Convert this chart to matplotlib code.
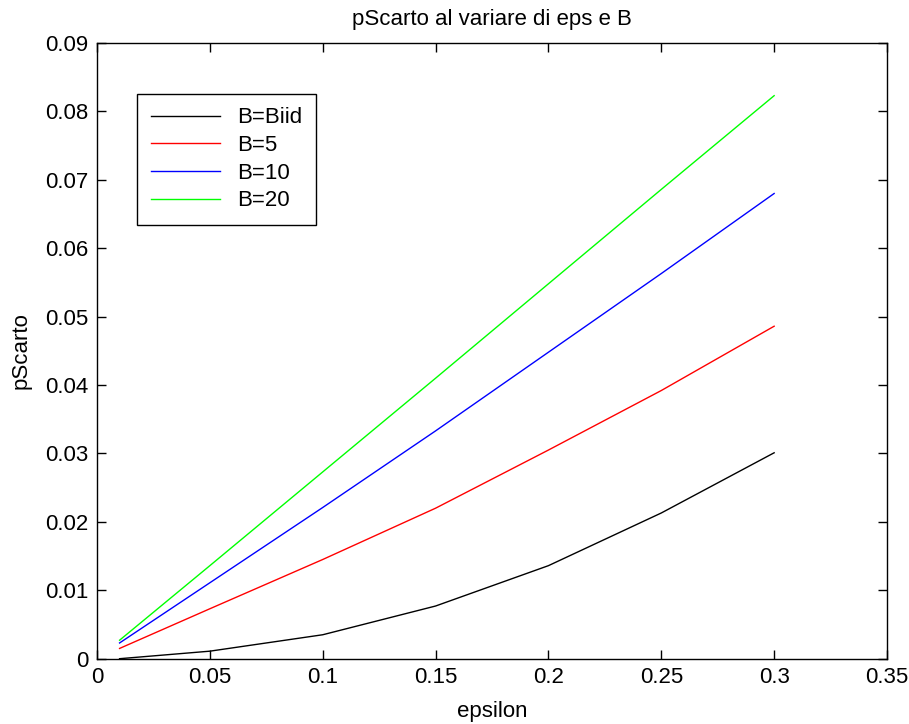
"""pScarto al variare di eps e B - recreated line chart"""

import matplotlib

matplotlib.use("Agg")
import matplotlib.pyplot as plt

# Data
epsilon = [0.01, 0.05, 0.10, 0.15, 0.20, 0.25, 0.30]
p_biid = [0.0, 0.0011, 0.0035, 0.0077, 0.0136, 0.0213, 0.0301]
p_b5 = [0.0015, 0.0073, 0.0145, 0.0220, 0.0305, 0.0392, 0.0486]
p_b10 = [0.0023, 0.0111, 0.0221, 0.0333, 0.0448, 0.0563, 0.0680]
p_b20 = [0.0027, 0.0136, 0.0273, 0.0410, 0.0548, 0.0686, 0.0823]

labels = ["B=Biid", "B=5", "B=10", "B=20"]
colors = ["black", "red", "blue", "#00ff00"]

x_ticks = [0, 0.05, 0.1, 0.15, 0.2, 0.25, 0.3, 0.35]
x_tick_labels = ["0", "0.05", "0.1", "0.15", "0.2", "0.25", "0.3", "0.35"]
y_ticks = [0, 0.01, 0.02, 0.03, 0.04, 0.05, 0.06, 0.07, 0.08, 0.09]
y_tick_labels = ["0", "0.01", "0.02", "0.03", "0.04", "0.05", "0.06", "0.07", "0.08", "0.09"]

plt.rcParams["font.family"] = ["Liberation Sans", "DejaVu Sans"]
fs = 16

fig = plt.figure(figsize=(9.09, 7.24), dpi=100)
ax = fig.add_axes([97 / 909, (724 - 658.7) / 724, 790 / 909, 615.7 / 724])

for series, lab, col in zip([p_biid, p_b5, p_b10, p_b20], labels, colors):
    ax.plot(epsilon, series, color=col, linewidth=1.0, label=lab)

ax.set_xlim(0, 0.35)
ax.set_ylim(0, 0.09)
ax.set_xticks(x_ticks)
ax.set_xticklabels(x_tick_labels)
ax.set_yticks(y_ticks)
ax.set_yticklabels(y_tick_labels)
ax.tick_params(direction="in", length=6.5, width=1, labelsize=fs,
               top=True, right=True, pad=6)
for sp in ax.spines.values():
    sp.set_linewidth(1.0)

ax.set_title("pScarto al variare di eps e B", fontsize=fs, pad=13)
ax.set_xlabel("epsilon", fontsize=fs, labelpad=9)
ax.set_ylabel("pScarto", fontsize=fs, labelpad=10)

leg = ax.legend(loc="upper left", bbox_to_anchor=(0.051, 0.917), fontsize=fs,
                handlelength=3.1, labelspacing=0.3, borderpad=0.6,
                fancybox=False, framealpha=1, edgecolor="black", borderaxespad=0)
leg.get_frame().set_linewidth(1.0)

plt.savefig("out.png", dpi=100)
